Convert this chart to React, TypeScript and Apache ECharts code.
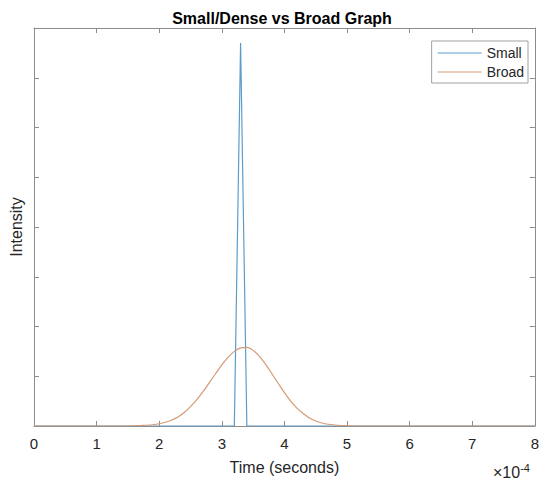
import React, { useEffect, useRef } from "react";
import * as echarts from "echarts";

// Time in units of 1e-4 seconds
const smallTime = [0, 3.2, 3.3, 3.4, 8];
const smallIntensity = [0, 0, 7.7, 0, 0];

const broadTime = [
  0, 1.5, 1.6, 1.7, 1.8, 1.9, 2.0, 2.1, 2.2, 2.3, 2.4, 2.5, 2.6, 2.7, 2.8, 2.9,
  3.0, 3.1, 3.2, 3.3, 3.4, 3.5, 3.6, 3.7, 3.8, 3.9, 4.0, 4.1, 4.2, 4.3, 4.4,
  4.5, 4.6, 4.7, 4.8, 4.9, 5.0, 5.1, 8,
];
const broadIntensity = [
  0, 0.0, 0.005, 0.01, 0.015, 0.025, 0.045, 0.075, 0.12, 0.18, 0.27, 0.39,
  0.53, 0.69, 0.87, 1.05, 1.23, 1.38, 1.5, 1.57, 1.58, 1.52, 1.4, 1.24, 1.05,
  0.86, 0.67, 0.5, 0.36, 0.25, 0.16, 0.1, 0.06, 0.035, 0.02, 0.01, 0.005, 0, 0,
];

const xTicks = [0, 1, 2, 3, 4, 5, 6, 7, 8];

const axisColor = "#8c8c8c";
const textColor = "#262626";
const smallColor = "#5a9ccb";
const broadColor = "#d49a74";
const fontFamily = "Liberation Sans, Arial, sans-serif";

export default function App() {
  const ref = useRef<HTMLDivElement>(null);
  useEffect(() => {
    if (!ref.current) return;
    const chart = echarts.init(ref.current, null, { renderer: "svg" });
    const tickCommon = {
      show: true,
      inside: true,
      length: 5,
      lineStyle: { color: axisColor, width: 1 },
    };
    const lineCommon = {
      show: true,
      onZero: false,
      lineStyle: { color: axisColor, width: 1 },
    };
    chart.setOption({
      animation: false,
      backgroundColor: "#ffffff",
      textStyle: { fontFamily },
      title: {
        text: "Small/Dense vs Broad Graph",
        left: 277,
        textAlign: "center",
        top: 5,
        textStyle: {
          fontSize: 16,
          fontWeight: "bold",
          color: "#000",
          fontFamily,
        },
      },
      grid: { left: 34, right: 4, top: 28, bottom: 52 },
      legend: {
        right: 14,
        top: 41,
        orient: "vertical",
        icon: "rect",
        itemWidth: 44,
        itemHeight: 1,
        itemGap: 5,
        padding: [5, 4, 4, 6],
        borderColor: "#a0a0a0",
        borderWidth: 1,
        backgroundColor: "#fff",
        textStyle: { fontSize: 14, color: textColor, fontFamily },
        data: ["Small", "Broad"],
      },
      xAxis: [
        {
          type: "value",
          min: 0,
          max: 8,
          interval: 1,
          position: "bottom",
          axisLine: lineCommon,
          axisTick: tickCommon,
          splitLine: { show: false },
          axisLabel: {
            fontSize: 15,
            color: textColor,
            margin: 10,
            formatter: (v: number) => (xTicks.includes(v) ? String(v) : ""),
          },
          name: "Time (seconds)",
          nameLocation: "middle",
          nameGap: 33,
          nameTextStyle: { fontSize: 16, color: textColor, fontFamily },
        },
        {
          type: "value",
          min: 0,
          max: 8,
          interval: 1,
          position: "top",
          axisLine: lineCommon,
          axisTick: tickCommon,
          splitLine: { show: false },
          axisLabel: { show: false },
        },
      ],
      yAxis: [
        {
          type: "value",
          min: 0,
          max: 8,
          interval: 1,
          position: "left",
          axisLine: lineCommon,
          axisTick: tickCommon,
          splitLine: { show: false },
          axisLabel: { show: false },
          name: "Intensity",
          nameLocation: "middle",
          nameGap: 10,
          nameTextStyle: { fontSize: 16, color: textColor, fontFamily },
        },
        {
          type: "value",
          min: 0,
          max: 8,
          interval: 1,
          position: "right",
          axisLine: lineCommon,
          axisTick: tickCommon,
          splitLine: { show: false },
          axisLabel: { show: false },
        },
      ],
      graphic: [
        {
          type: "text",
          left: 493,
          top: 462,
          style: {
            text: "×10{s|-4}",
            fontSize: 16,
            fill: textColor,
            fontFamily,
            rich: {
              s: {
                fontSize: 11,
                verticalAlign: "top",
                padding: [0, 0, 9, 0],
                fill: textColor,
                fontFamily,
              },
            },
          },
        },
      ],
      series: [
        {
          name: "Small",
          type: "line",
          symbol: "none",
          data: smallTime.map((t, i) => [t, smallIntensity[i]]),
          lineStyle: { color: smallColor, width: 1.2 },
          itemStyle: { color: smallColor },
          z: 2,
        },
        {
          name: "Broad",
          type: "line",
          symbol: "none",
          smooth: 0.3,
          data: broadTime.map((t, i) => [t, broadIntensity[i]]),
          lineStyle: { color: broadColor, width: 1.2 },
          itemStyle: { color: broadColor },
          z: 3,
        },
      ],
    });
    return () => chart.dispose();
  }, []);
  return (
    <div
      ref={ref}
      style={{ position: "fixed", left: 0, top: 0, width: 542, height: 480 }}
    />
  );
}
